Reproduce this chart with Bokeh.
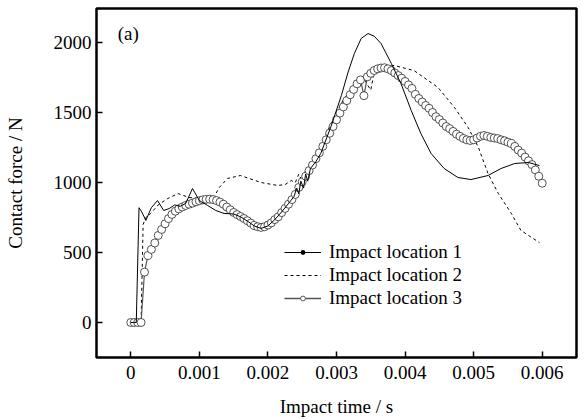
from bokeh.plotting import figure
from bokeh.models import (ColumnDataSource, Legend, LegendItem, FixedTicker,
                          CustomJSTickFormatter, Label, Range1d)
from bokeh.embed import file_html
from bokeh.resources import INLINE

# ---------------- data ----------------
t1 = [0, 0.00004, 0.00008, 0.00012, 0.00016, 0.00022, 0.00030, 0.00039, 0.00048,
      0.00056, 0.00064, 0.00072, 0.00080, 0.00090, 0.00100, 0.00112, 0.00124,
      0.00136, 0.00150, 0.00160, 0.00170, 0.00180, 0.00190, 0.00200, 0.00210,
      0.00220, 0.00230, 0.00238, 0.00242, 0.00245, 0.00248, 0.00252, 0.00255,
      0.00258, 0.00262, 0.00270, 0.00277, 0.00292, 0.00307, 0.00317, 0.00326,
      0.00336, 0.00346, 0.00355, 0.00365, 0.00380, 0.00394, 0.00409, 0.00423,
      0.00438, 0.00457, 0.00477, 0.00496, 0.00521, 0.00540, 0.00560, 0.00580,
      0.00596]
f1 = [0, 0, 0, 820, 790, 729, 820, 871, 800,
      814, 840, 830, 850, 957, 871, 836, 800,
      779, 775, 755, 725, 690, 672, 690, 735,
      790, 850, 900, 960, 920, 1010, 960, 1060,
      1010, 1100, 1150, 1207, 1400, 1620, 1790, 1921,
      2029, 2064, 2045, 1993, 1850, 1707, 1514, 1350,
      1207, 1100, 1036, 1021, 1050, 1100, 1136, 1143,
      1121]

t2 = [0, 0.00015, 0.00018, 0.00022, 0.00029, 0.00040, 0.00054, 0.00069, 0.00085,
      0.00102, 0.00121, 0.00129, 0.00141, 0.00160, 0.00190, 0.00214, 0.00225,
      0.00234, 0.00240, 0.00245, 0.00250, 0.00255, 0.00260, 0.00270, 0.00280,
      0.00290, 0.00300, 0.00310, 0.00320, 0.00330, 0.00340, 0.00345, 0.00350,
      0.00355, 0.00370, 0.00384, 0.00413, 0.00448, 0.00472, 0.00492, 0.00507,
      0.00521, 0.00536, 0.00555, 0.00569, 0.00596]
f2 = [0, 0, 700, 750, 779, 840, 886, 921, 893,
      886, 893, 964, 1029, 1050, 1000, 979, 985,
      1014, 1000, 1060, 1010, 1090, 1080, 1180, 1290,
      1400, 1500, 1590, 1660, 1710, 1745, 1700, 1660,
      1790, 1825, 1836, 1800, 1679, 1536, 1393, 1250,
      1064, 921, 779, 657, 571]

t3 = [0.00000, 0.00005, 0.00010, 0.00015, 0.00020, 0.00025, 0.00030, 0.00035,
      0.00040, 0.00045, 0.00050, 0.00055, 0.00060, 0.00065, 0.00070, 0.00075,
      0.00080, 0.00085, 0.00090, 0.00095, 0.00100, 0.00105, 0.00110, 0.00115,
      0.00120, 0.00125, 0.00130, 0.00135, 0.00140, 0.00145, 0.00150, 0.00155,
      0.00160, 0.00165, 0.00170, 0.00175, 0.00180, 0.00185, 0.00190, 0.00195,
      0.00200, 0.00205, 0.00210, 0.00215, 0.00220, 0.00225, 0.00230, 0.00235,
      0.00240, 0.00245, 0.00250, 0.00255, 0.00260, 0.00265, 0.00270, 0.00275,
      0.00280, 0.00285, 0.00290, 0.00295, 0.00300, 0.00305, 0.00310, 0.00315,
      0.00320, 0.00325, 0.00330, 0.00335, 0.00340, 0.00345, 0.00350, 0.00355,
      0.00360, 0.00365, 0.00370, 0.00375, 0.00380, 0.00385, 0.00390, 0.00395,
      0.00400, 0.00405, 0.00410, 0.00415, 0.00420, 0.00425, 0.00430, 0.00435,
      0.00440, 0.00445, 0.00450, 0.00455, 0.00460, 0.00465, 0.00470, 0.00475,
      0.00480, 0.00485, 0.00490, 0.00495, 0.00500, 0.00505, 0.00510, 0.00515,
      0.00520, 0.00525, 0.00530, 0.00535, 0.00540, 0.00545, 0.00550, 0.00555,
      0.00560, 0.00565, 0.00570, 0.00575, 0.00580, 0.00585, 0.00590, 0.00595,
      0.00600]
f3 = [0, 0, 0, 0, 360, 479, 522, 568,
      622, 665, 705, 742, 772, 795, 812, 825,
      836, 845, 853, 862, 870, 876, 880, 881,
      878, 871, 860, 845, 825, 805, 786, 771,
      757, 743, 727, 710, 693, 684, 679, 684,
      696, 712, 735, 755, 785, 815, 845, 878,
      915, 965, 1005, 1045, 1085, 1125, 1170, 1212,
      1258, 1305, 1352, 1400, 1448, 1496, 1540, 1585,
      1627, 1665, 1705, 1733, 1620, 1755, 1780, 1800,
      1812, 1818, 1820, 1812, 1800, 1783, 1764, 1745,
      1722, 1697, 1672, 1630, 1600, 1575, 1550, 1530,
      1500, 1470, 1450, 1425, 1400, 1385, 1365, 1345,
      1330, 1315, 1305, 1300, 1305, 1318, 1330, 1336,
      1330, 1322, 1318, 1314, 1305, 1298, 1288, 1279,
      1258, 1232, 1210, 1182, 1155, 1128, 1090, 1045,
      995]

x_ticks = [0, 0.001, 0.002, 0.003, 0.004, 0.005, 0.006]
y_ticks = [0, 500, 1000, 1500, 2000]
labels = ["Impact location 1", "Impact location 2", "Impact location 3"]
x_title = "Impact time / s"
y_title = "Contact force / N"

FONT = "Liberation Serif"
FS = "19px"

p = figure(width=580, height=419, output_backend="svg", toolbar_location=None,
           x_range=Range1d(-0.0005, 0.0065), y_range=Range1d(-250, 2243),
           min_border_left=96, min_border_right=4, min_border_top=8,
           min_border_bottom=61)
p.xgrid.visible = False
p.ygrid.visible = False
p.outline_line_color = "black"
p.outline_line_width = 2.5
p.background_fill_color = "white"
p.border_fill_color = "white"

for ax in (p.xaxis[0], p.yaxis[0]):
    ax.axis_line_color = None
    ax.major_tick_in = 6
    ax.major_tick_out = 0
    ax.major_tick_line_width = 1.5
    ax.minor_tick_line_color = None
    ax.major_label_text_font = FONT
    ax.major_label_text_font_size = FS
    ax.major_label_text_color = "black"
    ax.axis_label_text_font = FONT
    ax.axis_label_text_font_size = FS
    ax.axis_label_text_font_style = "normal"
    ax.axis_label_text_color = "black"

p.xaxis.ticker = FixedTicker(ticks=x_ticks)
p.yaxis.ticker = FixedTicker(ticks=y_ticks)
p.xaxis.formatter = CustomJSTickFormatter(
    code="return tick === 0 ? '0' : tick.toFixed(3);")
p.xaxis.major_label_standoff = 8
p.yaxis.major_label_standoff = 5
p.xaxis.axis_label = x_title
p.yaxis.axis_label = y_title
p.xaxis.axis_label_standoff = 14
p.yaxis.axis_label_standoff = 25

# curves
p.line(t2, f2, line_color="black", line_width=1, line_dash="3 3")
p.line(t3, f3, line_color="#555555", line_width=1.2)
p.scatter(t3, f3, marker="circle", size=8, fill_color="white",
          line_color="#2a2a2a", line_width=0.8)
p.line(t1, f1, line_color="black", line_width=1)

# legend icons: renderers whose single point lies far outside the view
hidden = ColumnDataSource(data=dict(x=[1.0], y=[1.0e6]))
l1 = p.line("x", "y", source=hidden, line_color="black", line_width=1)
d1 = p.scatter("x", "y", source=hidden, marker="circle", size=4,
               fill_color="black", line_color=None)
l2 = p.line("x", "y", source=hidden, line_color="black", line_width=1,
            line_dash="3 3")
l3 = p.line("x", "y", source=hidden, line_color="#555555", line_width=1.5)
d3 = p.scatter("x", "y", source=hidden, marker="circle", size=6,
               fill_color="white", line_color="#333333", line_width=0.8)

legend = Legend(items=[LegendItem(label=labels[0], renderers=[l1, d1]),
                       LegendItem(label=labels[1], renderers=[l2]),
                       LegendItem(label=labels[2], renderers=[l3, d3])],
                location=(188, 48), padding=0, margin=0, spacing=0,
                glyph_width=37, glyph_height=12, label_height=23,
                label_standoff=8, label_text_font=FONT,
                label_text_font_size=FS, label_text_color="black",
                background_fill_alpha=0, border_line_alpha=0)
p.add_layout(legend)

p.add_layout(Label(x=-0.00019, y=2064, text="(a)", text_font=FONT,
                   text_font_size=FS, text_baseline="middle",
                   text_color="black"))

open("out.html", "w").write(file_html(p, INLINE))
